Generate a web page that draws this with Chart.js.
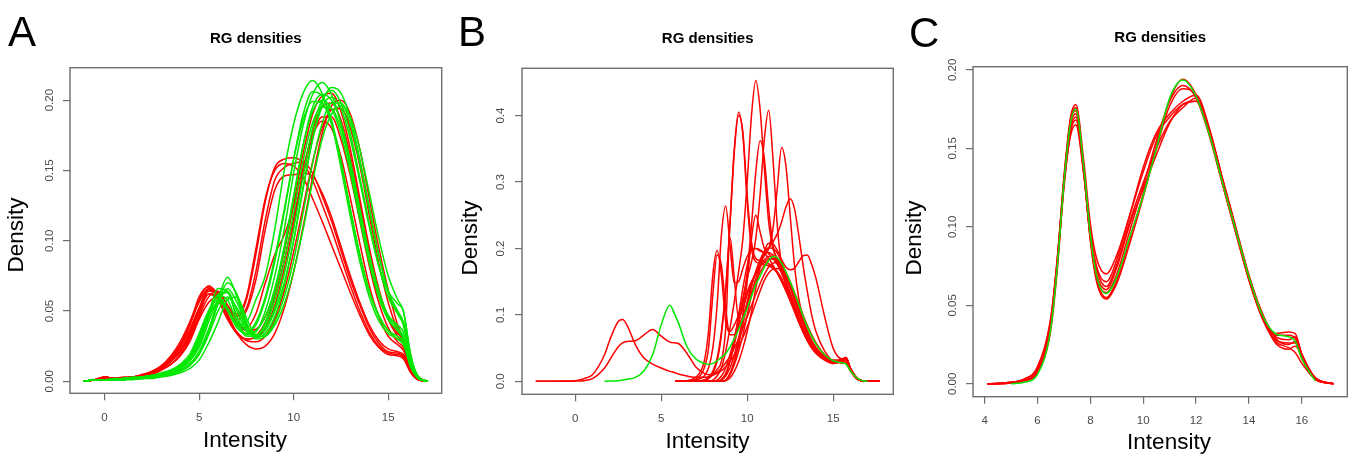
<!DOCTYPE html>
<html>
<head>
<meta charset="utf-8">
<script src="https://cdn.jsdelivr.net/npm/chart.js@4.4.1/dist/chart.umd.min.js"></script>
<style>
html,body{margin:0;padding:0;background:#fff;}
#wrap{position:relative;width:1350px;height:455px;overflow:hidden;font-family:"Liberation Sans",Arial,Helvetica,sans-serif;}
.panel{position:absolute;top:0;width:450px;height:455px;}
.letter{position:absolute;font-size:42px;line-height:42px;color:#000;z-index:2;}
.xt{position:absolute;font-size:22.5px;line-height:22.5px;color:#000;white-space:nowrap;transform:translateX(-50%);z-index:2;}
.yt{position:absolute;font-size:22.5px;line-height:22.5px;color:#000;white-space:nowrap;transform:translate(-50%,-50%) rotate(-90deg);z-index:2;}
</style>
</head>
<body>
<div id="wrap">
  <div class="panel" style="left:0px"><canvas id="cA" width="450" height="455"></canvas></div>
  <div class="panel" style="left:450px"><canvas id="cB" width="450" height="455"></canvas></div>
  <div class="panel" style="left:900px"><canvas id="cC" width="450" height="455"></canvas></div>
  <div class="letter" style="left:8px;top:11px">A</div>
  <div class="letter" style="left:458px;top:11px">B</div>
  <div class="letter" style="left:909px;top:12px">C</div>
  <div class="xt" id="xtA" style="left:245px;top:429px"></div>
  <div class="xt" id="xtB" style="left:707.5px;top:430px"></div>
  <div class="xt" id="xtC" style="left:1169px;top:431px"></div>
  <div class="yt" id="ytA" style="left:16px;top:235px"></div>
  <div class="yt" id="ytB" style="left:469.5px;top:238px"></div>
  <div class="yt" id="ytC" style="left:913.5px;top:238px"></div>
</div>
<script>
// ---------------- DATA ----------------
const chartTitle = 'RG densities';
const xTitle = 'Intensity';
const yTitle = 'Density';

// Panel A
const A_x = [-1.1,-0.5,0,0.5,1,1.5,2,2.5,3,3.5,4,4.5,5,5.5,6,6.5,7,7.5,8,8.5,9,9.5,10,10.5,11,11.5,12,12.5,13,13.5,14,14.5,15,15.5,15.8,16.2,16.6,17.1];
const A_xTicks = [0,5,10,15];
const A_yTicks = [0,0.05,0.10,0.15,0.20];
const A_green = [
  [0,0.001,0.001,0.001,0.002,0.002,0.003,0.004,0.005,0.007,0.011,0.017,0.032,0.050,0.060,0.052,0.040,0.042,0.058,0.075,0.108,0.150,0.183,0.205,0.214,0.205,0.184,0.152,0.117,0.085,0.060,0.043,0.034,0.030,0.026,0.010,0.002,0],
  [0,0.001,0.001,0.001,0.002,0.002,0.003,0.004,0.005,0.007,0.010,0.015,0.026,0.045,0.062,0.063,0.045,0.033,0.035,0.050,0.075,0.108,0.148,0.182,0.204,0.2125,0.204,0.183,0.152,0.117,0.085,0.060,0.044,0.036,0.030,0.012,0.002,0],
  [0,0.001,0.001,0.001,0.001,0.002,0.002,0.003,0.004,0.005,0.008,0.012,0.020,0.036,0.058,0.074,0.060,0.040,0.032,0.036,0.050,0.070,0.100,0.137,0.172,0.198,0.209,0.205,0.187,0.158,0.124,0.090,0.064,0.050,0.042,0.015,0.003,0],
  [0,0.001,0.001,0.001,0.002,0.002,0.003,0.004,0.005,0.007,0.011,0.017,0.030,0.048,0.061,0.058,0.042,0.032,0.032,0.042,0.063,0.093,0.130,0.168,0.195,0.204,0.200,0.184,0.157,0.123,0.090,0.064,0.046,0.038,0.032,0.012,0.002,0],
  [0,0.001,0.001,0.002,0.002,0.003,0.003,0.004,0.006,0.008,0.012,0.019,0.034,0.050,0.058,0.050,0.038,0.034,0.042,0.060,0.088,0.122,0.158,0.186,0.199,0.198,0.183,0.155,0.122,0.090,0.064,0.047,0.036,0.030,0.027,0.010,0.002,0],
  [0,0.001,0.001,0.001,0.001,0.002,0.002,0.003,0.004,0.005,0.008,0.012,0.020,0.035,0.055,0.070,0.062,0.042,0.031,0.034,0.046,0.068,0.100,0.138,0.172,0.195,0.202,0.194,0.172,0.142,0.110,0.082,0.064,0.055,0.050,0.018,0.003,0],
  [0,0.001,0.001,0.001,0.002,0.002,0.003,0.003,0.004,0.006,0.009,0.014,0.024,0.042,0.058,0.064,0.050,0.036,0.033,0.040,0.058,0.085,0.120,0.157,0.184,0.195,0.194,0.180,0.154,0.122,0.090,0.064,0.047,0.040,0.035,0.013,0.002,0],
  [0,0.001,0.001,0.001,0.001,0.002,0.002,0.003,0.004,0.005,0.007,0.011,0.019,0.033,0.050,0.060,0.052,0.038,0.030,0.032,0.042,0.060,0.086,0.120,0.155,0.183,0.198,0.198,0.183,0.155,0.122,0.090,0.064,0.048,0.040,0.015,0.003,0],
  [0,0.001,0.001,0.001,0.002,0.002,0.003,0.004,0.005,0.007,0.010,0.016,0.028,0.048,0.066,0.064,0.046,0.036,0.040,0.058,0.085,0.120,0.158,0.190,0.206,0.203,0.186,0.157,0.122,0.090,0.064,0.046,0.036,0.032,0.028,0.010,0.002,0],
  [0,0.001,0.001,0.001,0.001,0.002,0.002,0.003,0.004,0.005,0.008,0.012,0.021,0.037,0.055,0.066,0.056,0.040,0.033,0.038,0.052,0.076,0.108,0.146,0.180,0.200,0.207,0.198,0.176,0.145,0.112,0.082,0.060,0.048,0.042,0.016,0.003,0],
  [0,0.001,0.001,0.001,0.002,0.002,0.003,0.004,0.005,0.007,0.011,0.017,0.030,0.046,0.056,0.052,0.040,0.034,0.036,0.046,0.066,0.096,0.132,0.168,0.192,0.200,0.194,0.176,0.148,0.115,0.084,0.060,0.044,0.036,0.031,0.012,0.002,0],
  [0,0.001,0.001,0.001,0.001,0.001,0.002,0.002,0.003,0.004,0.006,0.009,0.015,0.027,0.042,0.058,0.060,0.045,0.033,0.032,0.040,0.055,0.078,0.108,0.142,0.172,0.190,0.196,0.188,0.165,0.134,0.102,0.075,0.058,0.050,0.018,0.003,0]
];
const A_red = [
  [0,0.001,0.003,0.002,0.002,0.003,0.004,0.006,0.009,0.014,0.021,0.032,0.050,0.066,0.062,0.048,0.034,0.026,0.023,0.025,0.034,0.052,0.078,0.110,0.145,0.176,0.196,0.200,0.190,0.165,0.130,0.095,0.065,0.040,0.030,0.012,0.003,0],
  [0,0.001,0.003,0.002,0.002,0.003,0.004,0.007,0.010,0.016,0.025,0.040,0.060,0.067,0.058,0.044,0.034,0.030,0.032,0.042,0.060,0.086,0.116,0.148,0.174,0.188,0.188,0.172,0.146,0.114,0.082,0.056,0.038,0.028,0.024,0.009,0.002,0],
  [0,0.001,0.002,0.002,0.002,0.003,0.004,0.005,0.008,0.012,0.019,0.030,0.046,0.060,0.064,0.054,0.042,0.036,0.037,0.046,0.064,0.092,0.126,0.162,0.190,0.203,0.205,0.192,0.165,0.130,0.095,0.066,0.045,0.034,0.030,0.011,0.002,0],
  [0,0.001,0.003,0.002,0.002,0.003,0.004,0.006,0.009,0.014,0.021,0.032,0.048,0.062,0.058,0.046,0.034,0.029,0.028,0.032,0.044,0.064,0.092,0.124,0.156,0.180,0.193,0.194,0.180,0.153,0.118,0.084,0.056,0.036,0.028,0.010,0.002,0],
  [0,0.001,0.002,0.002,0.002,0.003,0.004,0.005,0.008,0.012,0.018,0.028,0.044,0.056,0.060,0.050,0.040,0.038,0.048,0.070,0.090,0.104,0.125,0.152,0.175,0.185,0.180,0.160,0.130,0.098,0.068,0.046,0.032,0.026,0.022,0.008,0.001,0],
  [0,0.001,0.003,0.002,0.002,0.003,0.004,0.006,0.009,0.014,0.022,0.034,0.052,0.065,0.060,0.046,0.035,0.030,0.031,0.038,0.054,0.080,0.112,0.148,0.178,0.195,0.198,0.186,0.160,0.126,0.092,0.064,0.044,0.032,0.027,0.010,0.002,0],
  [0,0.001,0.003,0.002,0.002,0.003,0.004,0.007,0.011,0.017,0.026,0.040,0.056,0.066,0.060,0.050,0.046,0.058,0.090,0.128,0.152,0.158,0.159,0.155,0.143,0.126,0.108,0.088,0.068,0.050,0.035,0.025,0.020,0.019,0.017,0.006,0.001,0],
  [0,0.001,0.002,0.002,0.002,0.003,0.004,0.006,0.009,0.014,0.022,0.035,0.050,0.064,0.063,0.054,0.047,0.052,0.078,0.115,0.143,0.152,0.155,0.156,0.148,0.132,0.114,0.093,0.072,0.054,0.038,0.027,0.021,0.020,0.018,0.007,0.001,0],
  [0,0.001,0.003,0.002,0.003,0.003,0.005,0.007,0.011,0.018,0.028,0.042,0.058,0.068,0.062,0.050,0.044,0.050,0.072,0.108,0.136,0.146,0.147,0.148,0.146,0.134,0.117,0.096,0.075,0.056,0.040,0.029,0.023,0.021,0.019,0.007,0.001,0],
  [0,0.001,0.002,0.002,0.002,0.003,0.004,0.006,0.010,0.015,0.024,0.037,0.052,0.062,0.060,0.052,0.048,0.060,0.094,0.130,0.150,0.155,0.153,0.145,0.130,0.114,0.097,0.080,0.063,0.047,0.033,0.024,0.019,0.018,0.016,0.006,0.001,0]
];

// Panel B (curves are aligned to the right end of the grid)
const B_x = [-2.3,-1.5,-0.5,0,0.5,1,1.7,2,2.5,2.75,3,3.5,4,4.5,5,5.5,5.8,6,6.5,7,7.5,7.75,8,8.25,8.5,8.75,9,9.25,9.5,9.75,10,10.25,10.5,10.75,11,11.25,11.5,11.75,12,12.25,12.5,12.75,13,13.25,13.5,13.75,14,14.5,15,15.5,15.75,16,16.5,17,17.7];
const B_xTicks = [0,5,10,15];
const B_yTicks = [0,0.1,0.2,0.3,0.4];
const B_green = [
  [0,0.0005,0.001,0.002,0.003,0.006,0.016,0.040,0.085,0.1146,0.100,0.088,0.052,0.034,0.027,0.0255,0.027,0.031,0.036,0.042,0.052,0.064,0.078,0.094,0.110,0.128,0.146,0.158,0.172,0.182,0.188,0.186,0.178,0.165,0.150,0.133,0.116,0.098,0.082,0.068,0.056,0.040,0.031,0.028,0.026,0.016,0.003,0,null]
];
const B_red = [
  [0,0,0.0005,0.001,0.004,0.010,0.040,0.062,0.090,0.093,0.085,0.055,0.035,0.026,0.020,0.015,0.013,0.011,0.008,0.006,0.006,0.007,0.009,0.012,0.016,0.022,0.030,0.040,0.052,0.066,0.082,0.100,0.118,0.136,0.152,0.163,0.169,0.170,0.166,0.157,0.145,0.130,0.114,0.098,0.083,0.069,0.057,0.040,0.030,0.028,0.027,0.016,0.002,0,0],
  [0,0,0.0002,0.0005,0.001,0.004,0.020,0.032,0.052,0.058,0.060,0.061,0.070,0.078,0.068,0.059,0.058,0.057,0.042,0.022,0.012,0.010,0.011,0.014,0.020,0.028,0.038,0.050,0.064,0.080,0.097,0.114,0.131,0.147,0.161,0.172,0.178,0.179,0.174,0.164,0.150,0.134,0.117,0.100,0.084,0.070,0.058,0.040,0.030,0.028,0.028,0.016,0.002,0,0],
  [0,0,0,0,0,0,0.002,0.008,0.02,0.045,0.08,0.12,0.165,0.215,0.30,0.40,0.453,0.41,0.32,0.24,0.20,0.185,0.17,0.15,0.13,0.11,0.092,0.075,0.062,0.052,0.044,0.034,0.028,0.030,0.032,0.018,0.002,0,0],
  [0,0,0,0,0.002,0.006,0.015,0.035,0.075,0.14,0.24,0.35,0.405,0.37,0.27,0.20,0.18,0.178,0.176,0.174,0.170,0.163,0.152,0.138,0.122,0.106,0.090,0.076,0.063,0.052,0.044,0.034,0.028,0.031,0.033,0.019,0.002,0,0],
  [0,0,0,0,0.001,0.004,0.012,0.03,0.07,0.135,0.235,0.345,0.400,0.375,0.28,0.21,0.185,0.182,0.180,0.177,0.172,0.165,0.155,0.141,0.125,0.109,0.093,0.078,0.065,0.054,0.045,0.035,0.029,0.032,0.035,0.020,0.002,0,0],
  [0,0,0,0,0,0,0,0.002,0.008,0.02,0.04,0.065,0.095,0.125,0.155,0.18,0.215,0.28,0.365,0.408,0.335,0.235,0.175,0.145,0.125,0.107,0.090,0.075,0.062,0.051,0.043,0.033,0.027,0.030,0.031,0.017,0.002,0,0],
  [0,0,0,0,0,0,0,0,0.003,0.012,0.03,0.055,0.085,0.12,0.165,0.235,0.315,0.362,0.335,0.26,0.205,0.178,0.163,0.148,0.132,0.115,0.097,0.080,0.066,0.054,0.045,0.034,0.028,0.031,0.034,0.019,0.002,0,0],
  [0,0,0,0,0,0,0,0,0.002,0.008,0.02,0.04,0.065,0.092,0.12,0.145,0.165,0.18,0.19,0.20,0.23,0.29,0.352,0.325,0.25,0.175,0.125,0.095,0.075,0.060,0.050,0.037,0.029,0.032,0.034,0.019,0.002,0,0],
  [0,0,0,0,0,0,0,0,0,0.002,0.01,0.025,0.045,0.07,0.10,0.13,0.155,0.175,0.19,0.20,0.21,0.222,0.24,0.262,0.275,0.26,0.22,0.175,0.135,0.100,0.075,0.046,0.032,0.033,0.036,0.020,0.003,0,0],
  [0,0,0,0.002,0.008,0.02,0.05,0.115,0.22,0.264,0.205,0.148,0.150,0.170,0.188,0.198,0.200,0.198,0.193,0.185,0.175,0.163,0.150,0.136,0.121,0.105,0.089,0.074,0.061,0.050,0.042,0.032,0.027,0.030,0.032,0.017,0.002,0,0],
  [0,0,0.001,0.006,0.03,0.075,0.16,0.197,0.16,0.09,0.075,0.085,0.10,0.118,0.135,0.150,0.162,0.172,0.180,0.184,0.184,0.180,0.170,0.156,0.140,0.122,0.104,0.087,0.071,0.058,0.048,0.035,0.029,0.031,0.033,0.018,0.002,0,0],
  [0,0,0,0.003,0.02,0.05,0.13,0.19,0.175,0.11,0.07,0.07,0.082,0.098,0.116,0.134,0.150,0.164,0.175,0.182,0.185,0.183,0.176,0.163,0.147,0.129,0.110,0.092,0.076,0.062,0.051,0.037,0.030,0.031,0.035,0.019,0.002,0,0],
  [0,0,0,0,0.002,0.005,0.01,0.018,0.03,0.08,0.217,0.155,0.095,0.11,0.13,0.148,0.163,0.175,0.183,0.188,0.188,0.183,0.172,0.158,0.142,0.124,0.106,0.088,0.072,0.059,0.049,0.036,0.029,0.031,0.034,0.018,0.002,0,0],
  [0,0,0,0,0,0,0,0,0,0.002,0.01,0.03,0.06,0.10,0.150,0.215,0.250,0.225,0.200,0.192,0.185,0.176,0.163,0.148,0.131,0.113,0.095,0.079,0.065,0.053,0.045,0.034,0.028,0.031,0.033,0.018,0.002,0,0],
  [0,0,0,0,0,0,0,0,0,0.001,0.005,0.015,0.03,0.05,0.075,0.105,0.14,0.172,0.196,0.208,0.207,0.197,0.183,0.172,0.168,0.170,0.180,0.189,0.190,0.176,0.155,0.098,0.05,0.034,0.036,0.020,0.003,0,0],
  [0,0,0,0,0,0,0,0,0.002,0.01,0.03,0.06,0.10,0.14,0.175,0.198,0.200,0.196,0.194,0.194,0.190,0.180,0.166,0.150,0.133,0.115,0.097,0.081,0.067,0.055,0.046,0.035,0.028,0.031,0.034,0.018,0.002,0,0],
  [0,0,0,0,0,0,0,0,0,0.002,0.012,0.03,0.055,0.085,0.115,0.142,0.165,0.183,0.195,0.201,0.200,0.193,0.180,0.163,0.145,0.125,0.106,0.088,0.072,0.059,0.049,0.036,0.029,0.032,0.036,0.020,0.003,0,0]
];

// Panel C
const C_x = [4.1,5,5.5,6,6.5,6.75,7,7.25,7.45,7.75,8,8.25,8.6,9,9.5,10,10.5,11,11.5,12,12.5,13,13.5,14,14.5,15,15.5,15.75,16,16.5,17.2];
const C_xTicks = [4,6,8,10,12,14,16];
const C_yTicks = [0,0.05,0.10,0.15,0.20];
const C_green = [
  [null,0,0.001,0.006,0.035,0.075,0.128,0.166,0.175,0.138,0.095,0.068,0.0575,0.068,0.094,0.120,0.150,0.182,0.1935,0.183,0.159,0.128,0.098,0.068,0.044,0.032,0.030,0.027,0.016,0.002,null]
];
const C_red = [
  [0,0.0005,0.002,0.009,0.040,0.080,0.132,0.170,0.178,0.142,0.102,0.079,0.070,0.082,0.108,0.135,0.158,0.170,0.178,0.180,0.160,0.128,0.097,0.066,0.042,0.028,0.026,0.026,0.016,0.003,0],
  [0,0.0005,0.002,0.008,0.038,0.076,0.126,0.162,0.170,0.135,0.092,0.066,0.055,0.066,0.093,0.121,0.152,0.181,0.194,0.184,0.159,0.127,0.096,0.066,0.043,0.031,0.031,0.029,0.017,0.003,0],
  [0,0.001,0.003,0.011,0.042,0.080,0.128,0.158,0.165,0.133,0.094,0.072,0.062,0.076,0.104,0.128,0.150,0.167,0.176,0.182,0.162,0.130,0.099,0.068,0.043,0.026,0.022,0.024,0.018,0.004,0],
  [0,0.0005,0.002,0.007,0.034,0.073,0.128,0.168,0.176,0.138,0.094,0.067,0.058,0.070,0.098,0.126,0.155,0.180,0.190,0.182,0.158,0.127,0.097,0.067,0.044,0.030,0.028,0.030,0.019,0.004,0],
  [0,0.001,0.003,0.010,0.041,0.079,0.130,0.165,0.172,0.137,0.098,0.074,0.065,0.079,0.108,0.138,0.160,0.172,0.180,0.184,0.163,0.130,0.098,0.067,0.042,0.027,0.023,0.020,0.013,0.003,0],
  [0,0.0005,0.002,0.008,0.037,0.077,0.130,0.167,0.174,0.136,0.091,0.064,0.054,0.064,0.090,0.119,0.150,0.177,0.188,0.184,0.161,0.130,0.099,0.069,0.045,0.032,0.033,0.032,0.019,0.004,0],
  [0,0.001,0.003,0.010,0.039,0.076,0.125,0.160,0.168,0.134,0.093,0.069,0.060,0.074,0.102,0.124,0.146,0.166,0.178,0.180,0.161,0.131,0.100,0.069,0.045,0.029,0.025,0.027,0.017,0.003,0]
];

// ---------------- RENDERING ----------------
const FONT = '"Liberation Sans", Arial, Helvetica, sans-serif';
const RED = '#ff0000';
const GREEN = '#00e800';
const BOX = '#6e6e6e';
const TICK_TXT = '#4a4a4a';

['xtA','xtB','xtC'].forEach(id => { document.getElementById(id).textContent = xTitle; });
['ytA','ytB','ytC'].forEach(id => { document.getElementById(id).textContent = yTitle; });

function alignRight(grid, ys) {
  const pad = grid.length - ys.length;
  return grid.map((x, i) => {
    const y = i < pad ? null : ys[i - pad];
    return { x: x, y: (y === undefined ? null : y) };
  });
}

function buildDatasets(grid, greens, reds) {
  const mk = (ys, color, order) => ({
    data: alignRight(grid, ys),
    borderColor: color,
    borderWidth: 1.5,
    pointRadius: 0,
    pointHoverRadius: 0,
    fill: false,
    order: order,
    cubicInterpolationMode: 'monotone',
    spanGaps: false
  });
  return greens.map(g => mk(g, GREEN, 0)).concat(reds.map(r => mk(r, RED, 1)));
}

const plotBox = {
  id: 'plotBox',
  afterDatasetsDraw(chart) {
    const a = chart.chartArea, ctx = chart.ctx;
    ctx.save();
    ctx.strokeStyle = BOX;
    ctx.lineWidth = 1.4;
    ctx.strokeRect(a.left, a.top, a.right - a.left, a.bottom - a.top);
    ctx.restore();
  }
};

function makePanel(id, grid, greens, reds, xTicks, yTicks, L) {
  new Chart(document.getElementById(id), {
    type: 'line',
    data: { datasets: buildDatasets(grid, greens, reds) },
    options: {
      responsive: false,
      animation: false,
      events: [],
      layout: { padding: { left: 0, right: L.padR, top: 0, bottom: 0 } },
      plugins: {
        legend: { display: false },
        tooltip: { enabled: false },
        title: {
          display: true, text: chartTitle, fullSize: false, color: '#000',
          font: { family: FONT, size: 15, weight: 'bold', lineHeight: 1.2 },
          padding: { top: L.titleTop, bottom: L.titleBottom }
        }
      },
      scales: {
        x: {
          type: 'linear', min: L.xMin, max: L.xMax,
          afterFit: s => { s.height = L.xH; },
          afterBuildTicks: s => { s.ticks = xTicks.map(v => ({ value: v })); },
          grid: { display: true, drawOnChartArea: false, drawTicks: true, tickLength: 7, color: BOX, lineWidth: 1.2 },
          border: { display: false },
          ticks: { font: { family: FONT, size: 11.5 }, color: TICK_TXT, padding: L.xTickPad, maxRotation: 0, minRotation: 0, autoSkip: false, callback: v => String(v) },
          title: { display: false }
        },
        y: {
          type: 'linear', min: L.yMin, max: L.yMax,
          afterFit: s => { s.width = L.yW; },
          afterBuildTicks: s => { s.ticks = yTicks.map(v => ({ value: v })); },
          grid: { display: true, drawOnChartArea: false, drawTicks: true, tickLength: 7, color: BOX, lineWidth: 1.2 },
          border: { display: false },
          ticks: { font: { family: FONT, size: 11.5 }, color: TICK_TXT, padding: L.yTickPad, minRotation: 90, maxRotation: 90, crossAlign: 'center', autoSkip: false, callback: v => Number(v).toFixed(L.yDec) },
          title: { display: false }
        }
      }
    },
    plugins: [plotBox]
  });
}

makePanel('cA', A_x, A_green, A_red, A_xTicks, A_yTicks,
  { xMin: -1.828, xMax: 17.828, yMin: -0.0086, yMax: 0.2231, yW: 70, xH: 61.7, padR: 8.3,
    titleTop: 29.8, titleBottom: 19.9, yTickPad: 1.5, xTickPad: 11, yDec: 2 });
makePanel('cB', B_x, B_green, B_red, B_xTicks, B_yTicks,
  { xMin: -3.1, xMax: 18.5, yMin: -0.0195, yMax: 0.4712, yW: 72, xH: 60.7, padR: 6.7,
    titleTop: 29.8, titleBottom: 20.5, yTickPad: 6, xTickPad: 10.3, yDec: 1 });
makePanel('cC', C_x, C_green, C_red, C_xTicks, C_yTicks,
  { xMin: 3.56, xMax: 17.72, yMin: -0.0082, yMax: 0.2020, yW: 73, xH: 58.3, padR: 2.7,
    titleTop: 28.5, titleBottom: 20.2, yTickPad: 2, xTickPad: 10.7, yDec: 2 });
</script>
</body>
</html>
